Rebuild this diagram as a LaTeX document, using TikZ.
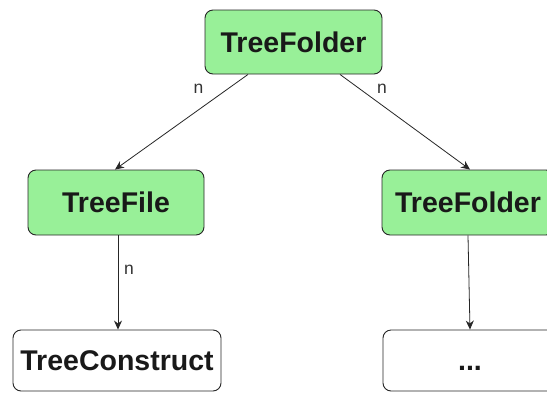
\documentclass[tikz,border=0pt]{standalone}
\usepackage{fontspec}
\setmainfont{Liberation Sans}
\usetikzlibrary{arrows.meta}
\definecolor{boxgreen}{RGB}{152,240,152}
\tikzset{
  box/.style={draw=black!85, line width=0.9pt, rounded corners=8pt, inner sep=0pt,
    text height=20.4pt, text depth=0pt,
    font=\fontsize{28.5}{31}\selectfont\bfseries, text=black!90},
  gbox/.style={box, fill=boxgreen},
  wbox/.style={box, fill=white},
  arr/.style={draw=black!85, line width=0.8pt, -{Stealth[length=9pt,width=8pt,inset=3pt]}},
  lbl/.style={font=\fontsize{17.5}{19}\selectfont, text=black!80, inner sep=0pt}
}
\begin{document}
\begin{tikzpicture}[x=1pt,y=-1pt]
\useasboundingbox (0,0) rectangle (547,392);
\fill[white] (0,0) rectangle (547,392);
\clip (0,0) rectangle (547,392);
\node[gbox, minimum width=177pt, minimum height=64pt] (root) at (293.5,42) {TreeFolder};
\node[gbox, minimum width=176pt, minimum height=65pt] (tf) at (116,202.5) {TreeFile};
\node[gbox, minimum width=172pt, minimum height=65pt] (tf2) at (468,202.5) {TreeFolder};
\node[wbox, minimum width=208pt, minimum height=61pt] (tc) at (117,360.5) {TreeConstruct};
\node[wbox, minimum width=174pt, minimum height=61pt] (dots) at (470,360.5) {...};
\draw[arr] ([xshift=-45.5pt]root.south) -- ([xshift=-1pt]tf.north);
\draw[arr] ([xshift=46.5pt]root.south) -- ([xshift=2pt]tf2.north);
\draw[arr] ([xshift=2pt]tf.south) -- ([xshift=1pt]tc.north);
\draw[arr] (tf2.south) -- (dots.north);
\node[lbl] (n1) at (198.5,89) {n};
\node[lbl] (n2) at (382,89) {n};
\node[lbl] (n3) at (129,269.5) {n};
\end{tikzpicture}
\end{document}
